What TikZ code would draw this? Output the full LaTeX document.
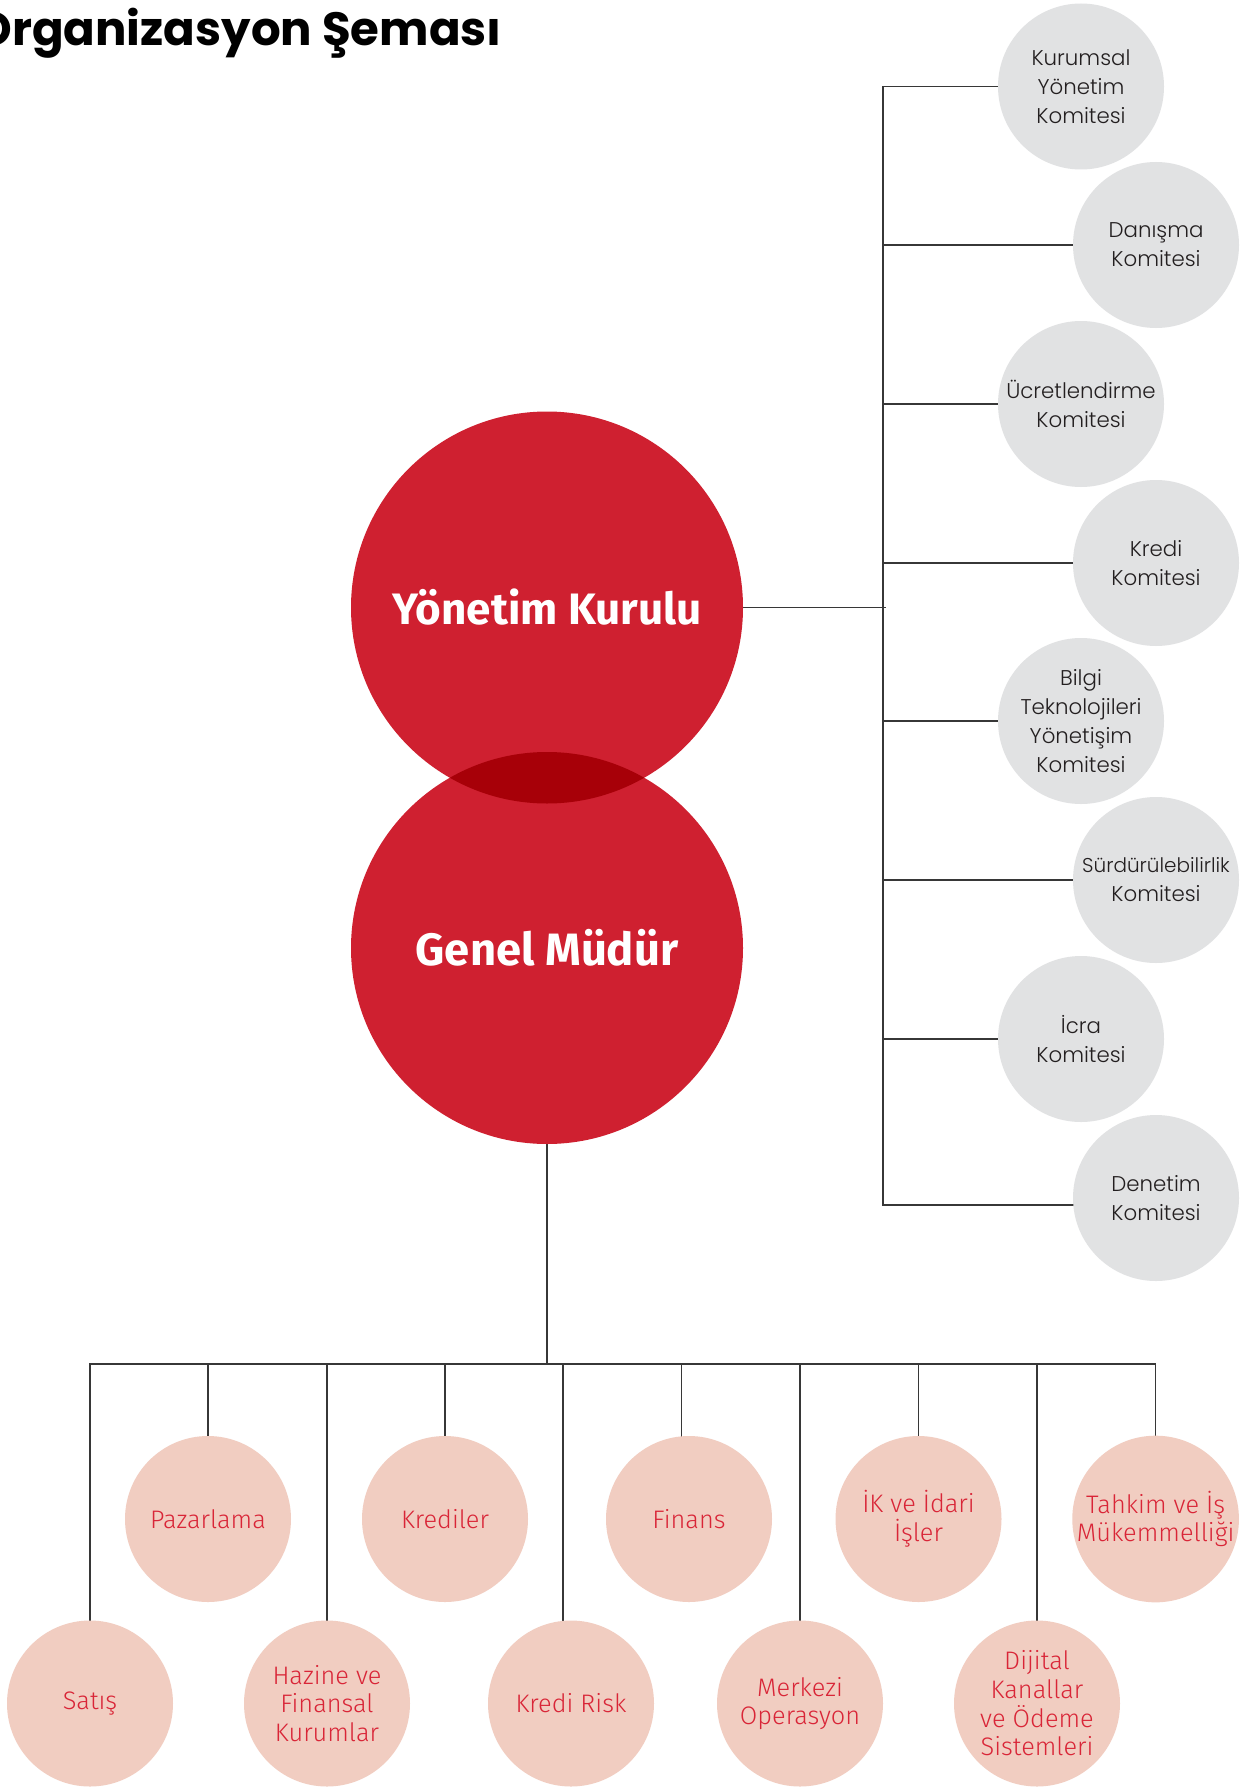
\documentclass[tikz,border=0pt]{standalone}
\usepackage{fontspec}
\usetikzlibrary{backgrounds}
\newfontfamily\popfont{Poppins}
\newfontfamily\poplight{Poppins Light}
\newfontfamily\firalight{Fira Sans Light}
\newfontfamily\firafont{Fira Sans}
\definecolor{bigred}{RGB}{207,32,48}
\definecolor{lensred}{RGB}{167,0,8}
\definecolor{pinkfill}{RGB}{241,205,193}
\definecolor{pinktext}{RGB}{217,37,55}
\definecolor{grayfill}{RGB}{225,226,227}
\definecolor{linecol}{RGB}{55,55,55}
\definecolor{comtext}{RGB}{35,31,32}
\tikzset{
  conn/.style={draw=linecol, line width=0.9pt},
  bigcirc/.style={circle, fill=bigred, minimum size=294pt, inner sep=0pt, text=white,
    font=\firafont\bfseries\fontsize{33}{38}\selectfont},
  comcirc/.style={circle, fill=grayfill, minimum size=124.5pt, inner sep=0pt, text=comtext,
    align=center, font=\poplight\fontsize{16}{21.75}\selectfont},
  unitcirc/.style={circle, fill=pinkfill, minimum size=124.5pt, inner sep=0pt, text=pinktext,
    align=center, font=\firalight\fontsize{19}{21.5}\selectfont},
}
\begin{document}
\begin{tikzpicture}[x=0.75pt,y=-0.75pt]
\useasboundingbox (0,0) rectangle (1248,1787);
\begin{pgfonlayer}{background}
  \fill[white] (0,0) rectangle (1248,1787);
\end{pgfonlayer}
\clip (0,0) rectangle (1248,1787);

% title
\node[anchor=base east, inner sep=0pt, font=\popfont\bfseries\fontsize{35}{40}\selectfont] (title) at (502,46) {Organizasyon Şeması};

% main circles
\node[bigcirc] (yk) at (547,607.5) {Yönetim Kurulu};
\node[bigcirc, font=\firafont\bfseries\fontsize{34}{38}\selectfont] (gm) at (547,948) {Genel Müdür};
\begin{scope}
  \clip (yk.center) circle[radius=147pt];
  \fill[lensred] (gm.center) circle[radius=147pt];
\end{scope}

% committees
\node[comcirc] (k1) at (1081,86.5) {Kurumsal\\Yönetim\\Komitesi};
\node[comcirc] (k2) at (1156,245) {Danışma\\Komitesi};
\node[comcirc] (k3) at (1081,404) {Ücretlendirme\\Komitesi};
\node[comcirc] (k4) at (1156,563) {Kredi\\Komitesi};
\node[comcirc] (k5) at (1081,721) {Bilgi\\Teknolojileri\\Yönetişim\\Komitesi};
\node[comcirc, font=\poplight\fontsize{15}{21.75}\selectfont] (k6) at (1156,880) {Sürdürülebilirlik\\{\fontsize{16}{21.75}\selectfont Komitesi}};
\node[comcirc] (k7) at (1081,1039) {İcra\\Komitesi};
\node[comcirc] (k8) at (1156,1198) {Denetim\\Komitesi};
\coordinate (trunk) at (883,607.5);

% units
\node[unitcirc] (p0) at (90,1703.5) {Satış};
\node[unitcirc] (p1) at (208,1519) {Pazarlama};
\node[unitcirc] (p2) at (327,1703.5) {Hazine ve\\Finansal\\Kurumlar};
\node[unitcirc] (p3) at (445,1519) {Krediler};
\node[unitcirc] (p4) at (571,1703.5) {Kredi Risk};
\node[unitcirc] (p5) at (689,1519) {Finans};
\node[unitcirc] (p6) at (800,1703.5) {Merkezi\\Operasyon};
\node[unitcirc] (p7) at (918.5,1519) {İK ve İdari\\İşler};
\node[unitcirc] (p8) at (1037,1703.5) {Dijital\\Kanallar\\ve Ödeme\\Sistemleri};
\node[unitcirc] (p9) at (1155.6,1519) {Tahkim ve İş\\Mükemmelliği};
\coordinate (bus) at (547,1364);

\begin{pgfonlayer}{background}
  % board to committees
  \draw[conn] (yk.center) -- ([xshift=2.25pt]yk.center -| trunk);
  \draw[conn] (k1.center) -- (k1.center -| trunk) -- ([yshift=-5.25pt]k8.center -| trunk) -- ([yshift=-5.25pt]k8.center);
  \draw[conn] (k2.center) -- (k2.center -| trunk);
  \draw[conn] (k3.center) -- (k3.center -| trunk);
  \draw[conn] (k4.center) -- (k4.center -| trunk);
  \draw[conn] (k5.center) -- (k5.center -| trunk);
  \draw[conn] (k6.center) -- (k6.center -| trunk);
  \draw[conn] (k7.center) -- (k7.center -| trunk);
  % general manager to units
  \draw[conn] (gm.center) -- (bus);
  \draw[conn] (p0.center) |- (bus);
  \draw[conn] (p1.center) |- (bus);
  \draw[conn] (p2.center) |- (bus);
  \draw[conn] (p3.center) |- (bus);
  \draw[conn] ([xshift=-6pt]p4.center) |- (bus);
  \draw[conn] ([xshift=-5.6pt]p5.center) |- (bus);
  \draw[conn] (p6.center) |- (bus);
  \draw[conn] (p7.center) |- (bus);
  \draw[conn] (p8.center) |- (bus);
  \draw[conn] (p9.center) |- (bus);
\end{pgfonlayer}
\end{tikzpicture}
\end{document}
